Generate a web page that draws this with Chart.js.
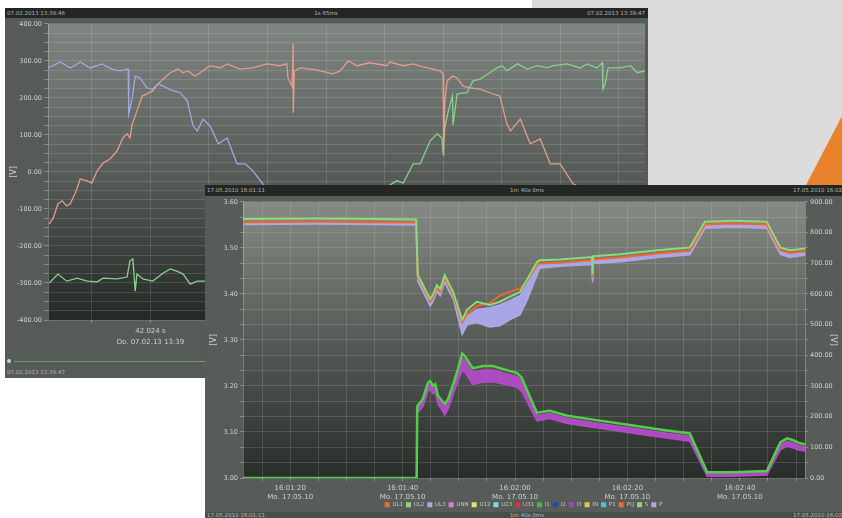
<!DOCTYPE html>
<html><head><meta charset="utf-8">
<script src="https://cdn.jsdelivr.net/npm/chart.js@4.4.1/dist/chart.umd.min.js"></script>
<style>
html,body{margin:0;padding:0;background:#fff;width:842px;height:518px;overflow:hidden;font-family:"DejaVu Sans",sans-serif;}
.abs{position:absolute;}
#grayBg{left:532px;top:0;width:310px;height:185px;background:#dcdcdc;}
#orange{left:800px;top:110px;width:42px;height:75px;background:#e8822c;clip-path:polygon(6px 75px,42px 6px,42px 75px);}
#back{left:5px;top:8px;width:643px;height:370px;background:#575b57;overflow:hidden;}
#front{left:205px;top:185px;width:637px;height:333px;background:#585c58;overflow:hidden;}
.bar{position:absolute;left:0;width:100%;background:#232623;color:#b3b7b3;font-size:5.5px;white-space:nowrap;}
.bar span{position:absolute;top:0;}
canvas{position:absolute;left:0;}
</style></head>
<body>
<div id="grayBg" class="abs"></div>
<div id="orange" class="abs"></div>

<div id="back" class="abs">
  <div class="bar" style="top:0;height:10px;line-height:10px;">
    <span style="left:2px;">07.02.2013 13:39:46</span>
    <span style="left:321px;transform:translateX(-50%);">1s 65ms</span>
    <span style="right:3px;">07.02.2013 13:39:47</span>
  </div>
  <canvas id="backCanvas" width="643" height="332" style="top:10px;"></canvas>
  <div class="abs" style="left:9px;top:353px;width:634px;height:1px;background:#63a065;"></div>
  <div class="abs" style="left:2px;top:351px;width:4px;height:4px;border-radius:2px;background:#c8d8c8;"></div>
  <div class="abs" style="left:2px;top:361px;color:#b3b7b3;font-size:5.5px;white-space:nowrap;">07.02.2013 13:39:47</div>
</div>

<div id="front" class="abs">
  <div class="bar" style="top:0;height:11px;line-height:11px;">
    <span style="left:2px;">17.05.2010 16:01:11</span>
    <span style="left:322px;transform:translateX(-50%);">1m 40s 0ms</span>
    <span style="left:588px;">17.05.2010 16:02:51</span>
  </div>
  <canvas id="frontCanvas" width="637" height="316" style="top:11px;"></canvas>
  <div class="bar" style="top:327px;height:6px;line-height:6px;background:#4a4e4a;">
    <span style="left:2px;">17.05.2010 16:01:11</span>
    <span style="left:322px;transform:translateX(-50%);">1m 40s 0ms</span>
    <span style="left:588px;">17.05.2010 16:02:51</span>
  </div>
</div>

<script>
// ---------- back chart data (time in ms, voltage in V) ----------
const backGridT = [75,175,275,375,475,575,675,775,875,975];
const backXLabels = {175: ['42.024 s', 'Do. 07.02.13 13:39']};
const backYLabelStep = 100;

const backBlueT = [0,21,38,55,72,92,109,123,137,138,144,149,157,169,179,188,197,209,226,238,248,255,265,277,291,306,323,337,350,367,400,450,520,600,700,800,900,1020];
const backBlueV = [281,297,281,297,281,292,278,273,278,157,200,259,254,227,224,238,232,222,214,192,124,111,143,124,76,92,22,22,3,-32,-100,-180,-250,-290,-300,-295,-300,-290];

const backRedT = [2,9,17,24,32,38,46,50,55,67,75,84,94,106,118,128,135,140,144,152,161,169,179,188,197,209,222,231,239,251,260,277,294,306,328,350,374,396,408,410,417,419,419,421,431,448,460,465,487,499,513,528,550,579,584,607,624,641,670,675,676,678,682,691,699,709,721,738,755,772,784,790,807,824,841,858,875,897,980,1020];
const backRedV = [-141,-124,-86,-78,-92,-86,-59,-43,-19,-24,-30,3,24,35,57,92,103,92,130,165,205,211,219,238,251,268,278,268,273,259,268,287,281,292,278,281,292,287,292,254,232,349,160,273,281,278,276,273,265,273,300,287,295,287,297,287,292,284,273,265,43,192,246,259,254,232,227,224,214,205,130,111,143,76,89,22,22,-32,-100,-160];

const backGreenT = [2,17,32,50,67,84,94,118,135,140,145,149,152,162,179,197,209,220,231,243,255,265,330,450,520,581,596,607,624,636,653,665,673,675,678,684,691,692,699,716,726,738,755,767,776,784,802,819,836,853,863,887,909,921,938,947,948,952,957,978,995,1007,1020];
const backGreenV = [-300,-276,-295,-287,-295,-297,-287,-289,-284,-240,-235,-322,-276,-289,-295,-273,-262,-268,-276,-303,-295,-295,-290,-200,-120,-38,-24,-30,22,22,84,103,92,49,119,165,205,127,211,214,246,251,268,281,287,273,292,278,287,281,287,292,281,292,281,295,224,238,281,281,287,268,273];

// ---------- front chart data (time in s after 16:00:00) ----------
const frontXGrid = [75,80,85,90,95,100,105,110,115,120,125,130,135,140,145,150,155,160,165,170];
const frontXLabelTimes = [80,100,120,140,160];
const frontDateLabel = 'Mo. 17.05.10';
const frontLeftLabels = [3.0,3.1,3.2,3.3,3.4,3.5,3.6];

const frontUpperT = [71.6,85,95,102.4,102.7,103.1,104.9,105.4,106.1,106.7,107.5,108.1,109.0,110.6,111.5,113.2,115.5,117.3,119.1,120.9,122.1,123.9,124.4,128.0,133.7,133.8,133.9,138.7,145.3,151.1,153.8,158.8,164.8,167.2,168.9,171.6];
const frontUL2 = [3.563,3.564,3.563,3.562,3.441,3.432,3.389,3.398,3.419,3.411,3.441,3.426,3.404,3.344,3.366,3.383,3.376,3.383,3.394,3.404,3.430,3.469,3.473,3.475,3.480,3.443,3.482,3.486,3.495,3.501,3.557,3.559,3.557,3.501,3.495,3.499];
const frontUL1 = [3.556,3.557,3.556,3.555,3.436,3.428,3.384,3.392,3.413,3.405,3.436,3.420,3.398,3.338,3.357,3.374,3.380,3.396,3.405,3.412,3.428,3.462,3.466,3.468,3.473,3.436,3.475,3.479,3.488,3.494,3.551,3.553,3.551,3.495,3.489,3.493];
const frontUL3Max = [3.554,3.555,3.554,3.553,3.434,3.426,3.382,3.390,3.411,3.403,3.434,3.418,3.396,3.334,3.352,3.366,3.370,3.376,3.386,3.396,3.420,3.460,3.464,3.466,3.471,3.434,3.473,3.477,3.486,3.492,3.549,3.551,3.549,3.493,3.487,3.491];
const frontUL3Min = [3.551,3.552,3.551,3.550,3.428,3.418,3.374,3.384,3.405,3.396,3.426,3.410,3.390,3.312,3.333,3.338,3.328,3.331,3.344,3.355,3.385,3.440,3.456,3.460,3.464,3.425,3.466,3.470,3.479,3.485,3.543,3.545,3.543,3.486,3.480,3.484];

const frontLowerT = [71.6,102.5,102.6,103.1,103.6,104.5,104.9,105.4,105.8,106.3,107.0,107.5,108.1,109.0,109.9,110.6,111.1,112.0,112.5,114.3,116.1,117.9,120.4,121.2,123.9,126.2,129.3,135.1,141.0,147.0,151.1,154.2,158.8,164.8,167.2,168.4,169.5,170.7,171.6];
const frontI1 = [0,0,235,245,258,310,316,300,306,268,252,242,258,306,358,406,397,371,358,365,365,355,342,326,213,219,203,187,171,155,145,19,19,23,116,129,123,113,110];
const frontI3Max = [0,0,228,238,250,300,306,290,296,258,242,232,248,294,345,392,383,358,345,352,352,342,330,314,204,210,194,178,162,146,136,16,16,20,108,120,114,104,102];
const frontI3Min = [0,0,210,222,232,282,290,274,280,240,222,205,225,272,320,350,345,318,305,312,314,306,296,282,186,194,178,162,146,130,120,6,6,10,92,104,98,90,88];

const legendNames = ['UL1','UL2','UL3','UNN','U12','U23','U31','I1','I2','I3','IN','P1','PQ','S','P'];
const legendColors = ['#e8702e','#8fd47e','#a9a8e8','#e07ad8','#e6e07a','#86d8e4','#e03232','#3ec23e','#2444c4','#a444c4','#d4d040','#44c4d4','#e87232','#92d482','#aaa8ea'];

// ---------- helpers ----------
function pts(T, V) { return T.map((t, i) => ({x: t, y: V[i]})); }
function range(a, b, s) { const r = []; for (let v = a; v <= b + 1e-9; v += s) r.push(+v.toFixed(4)); return r; }
function fmtTime(v) {
  const m = Math.floor(v / 60), s = Math.round(v - m * 60);
  return '16:' + String(m).padStart(2, '0') + ':' + String(s).padStart(2, '0');
}
const plotBg = {
  id: 'plotBg',
  beforeDraw(chart, args, o) {
    const {ctx, chartArea: a} = chart;
    const g = ctx.createLinearGradient(0, a.top, 0, a.bottom);
    g.addColorStop(0, o.top); g.addColorStop(0.5, o.mid); g.addColorStop(1, o.bottom);
    ctx.save(); ctx.fillStyle = g; ctx.fillRect(a.left, a.top, a.width, a.height); ctx.restore();
  }
};
const gridCol = 'rgba(255,255,255,0.13)';
const tickCol = '#cdd1cd';
const ff = 'DejaVu Sans';

// ---------- back chart ----------
new Chart(document.getElementById('backCanvas'), {
  type: 'line',
  data: {datasets: [
    {label: 'L3', data: pts(backBlueT, backBlueV), borderColor: '#a3a8e2'},
    {label: 'L1', data: pts(backRedT, backRedV), borderColor: '#e49c90'},
    {label: 'L2', data: pts(backGreenT, backGreenV), borderColor: '#88d08c'}
  ]},
  options: {
    responsive: false, animation: false, events: [],
    layout: {padding: {top: 4, right: 3, left: 0, bottom: 0}},
    elements: {line: {borderWidth: 1.3, tension: 0}, point: {radius: 0}},
    plugins: {legend: {display: false}, tooltip: {enabled: false},
      plotBg: {top: '#7f8580', mid: '#575c58', bottom: '#252926'}},
    scales: {
      x: {type: 'linear', min: 0, max: 1020,
        afterBuildTicks: s => { s.ticks = backGridT.map(v => ({value: v})); },
        afterFit: s => { s.height = 30; },
        grid: {color: gridCol, tickLength: 3, tickColor: 'rgba(255,255,255,0.3)'},
        border: {display: false},
        ticks: {autoSkip: false, maxRotation: 0, padding: 3, color: tickCol,
          font: {family: ff, size: 7, lineHeight: 1.5}, callback: v => backXLabels[v] || ''}},
      y: {min: -400, max: 400,
        afterBuildTicks: s => { s.ticks = range(-400, 400, 25).map(v => ({value: v})); },
        afterFit: s => { s.width = 43; },
        grid: {color: gridCol, tickLength: 4, tickColor: 'rgba(255,255,255,0.3)'},
        border: {color: 'rgba(255,255,255,0.25)'},
        ticks: {autoSkip: false, padding: 2, color: tickCol, font: {family: ff, size: 6.5},
          callback: v => (Math.round(v) % backYLabelStep === 0 ? Number(v).toFixed(2) : '')},
        title: {display: true, text: '[V]', color: tickCol, font: {family: ff, size: 8}}}
    }
  },
  plugins: [plotBg]
});

// ---------- front chart ----------
new Chart(document.getElementById('frontCanvas'), {
  type: 'line',
  data: {datasets: [
    {label: 'UL2', yAxisID: 'y', data: pts(frontUpperT, frontUL2), borderColor: '#88dc7c', borderWidth: 2},
    {label: 'UL1', yAxisID: 'y', data: pts(frontUpperT, frontUL1), borderColor: '#f0662c', borderWidth: 2},
    {label: 'UL3', yAxisID: 'y', data: pts(frontUpperT, frontUL3Max), borderColor: '#aba9ea', borderWidth: 1.5},
    {label: 'UL3min', yAxisID: 'y', data: pts(frontUpperT, frontUL3Min), borderColor: '#aba9ea', borderWidth: 1.5,
      fill: '-1', backgroundColor: 'rgba(171,169,234,0.95)'},
    {label: 'I1', yAxisID: 'y1', data: pts(frontLowerT, frontI1), borderColor: '#50d048', borderWidth: 2.5},
    {label: 'I3', yAxisID: 'y1', data: pts(frontLowerT, frontI3Max), borderColor: '#b24cc6', borderWidth: 1.5},
    {label: 'I3min', yAxisID: 'y1', data: pts(frontLowerT, frontI3Min), borderColor: '#b24cc6', borderWidth: 1.5,
      fill: '-1', backgroundColor: 'rgba(178,76,198,0.95)'}
  ]},
  options: {
    responsive: false, animation: false, events: [],
    layout: {padding: {top: 4, right: 0, left: 0, bottom: 0}},
    elements: {line: {tension: 0}, point: {radius: 0}},
    plugins: {
      tooltip: {enabled: false},
      plotBg: {top: '#858a84', mid: '#575b57', bottom: '#292d2a'},
      legend: {display: true, position: 'bottom', maxHeight: 13,
        labels: {boxWidth: 5, boxHeight: 5, padding: 3, color: '#c3c7c3', font: {family: ff, size: 5.5},
          generateLabels: () => legendNames.map((n, i) => ({text: n, fillStyle: legendColors[i],
            strokeStyle: legendColors[i], lineWidth: 0, hidden: false, fontColor: '#c3c7c3'}))}}
    },
    scales: {
      x: {type: 'linear', min: 71.6, max: 171.6,
        afterBuildTicks: s => { s.ticks = frontXGrid.map(v => ({value: v})); },
        afterFit: s => { s.height = 21; },
        grid: {color: gridCol, tickLength: 3, tickColor: 'rgba(255,255,255,0.3)'},
        border: {display: false},
        ticks: {autoSkip: false, maxRotation: 0, padding: 3, color: tickCol,
          font: {family: ff, size: 7, lineHeight: 1.3},
          callback: v => (frontXLabelTimes.includes(v) ? [fmtTime(v), frontDateLabel] : '')}},
      y: {position: 'left', min: 3.0, max: 3.6,
        afterBuildTicks: s => { s.ticks = range(3.0, 3.6, 0.1 / 3).map(v => ({value: v})); },
        afterFit: s => { s.width = 38; },
        grid: {drawOnChartArea: false, tickLength: 3, tickColor: 'rgba(255,255,255,0.3)'},
        border: {color: 'rgba(255,255,255,0.25)'},
        ticks: {autoSkip: false, padding: 2, color: tickCol, font: {family: ff, size: 6.5},
          callback: v => (frontLeftLabels.some(l => Math.abs(l - v) < 1e-4) ? Number(v).toFixed(2) : '')},
        title: {display: true, text: '[V]', color: tickCol, font: {family: ff, size: 8}}},
      y1: {position: 'right', min: 0, max: 900,
        afterBuildTicks: s => { s.ticks = range(0, 900, 50).map(v => ({value: v})); },
        afterFit: s => { s.width = 37; },
        grid: {color: gridCol, tickLength: 3, tickColor: 'rgba(255,255,255,0.3)'},
        border: {color: 'rgba(255,255,255,0.25)'},
        ticks: {autoSkip: false, padding: 2, color: tickCol, font: {family: ff, size: 6.5},
          callback: v => (Math.round(v) % 100 === 0 ? Number(v).toFixed(2) : '')},
        title: {display: true, text: '[V]', color: tickCol, font: {family: ff, size: 8}}}
    }
  },
  plugins: [plotBg]
});
</script>
</body></html>
